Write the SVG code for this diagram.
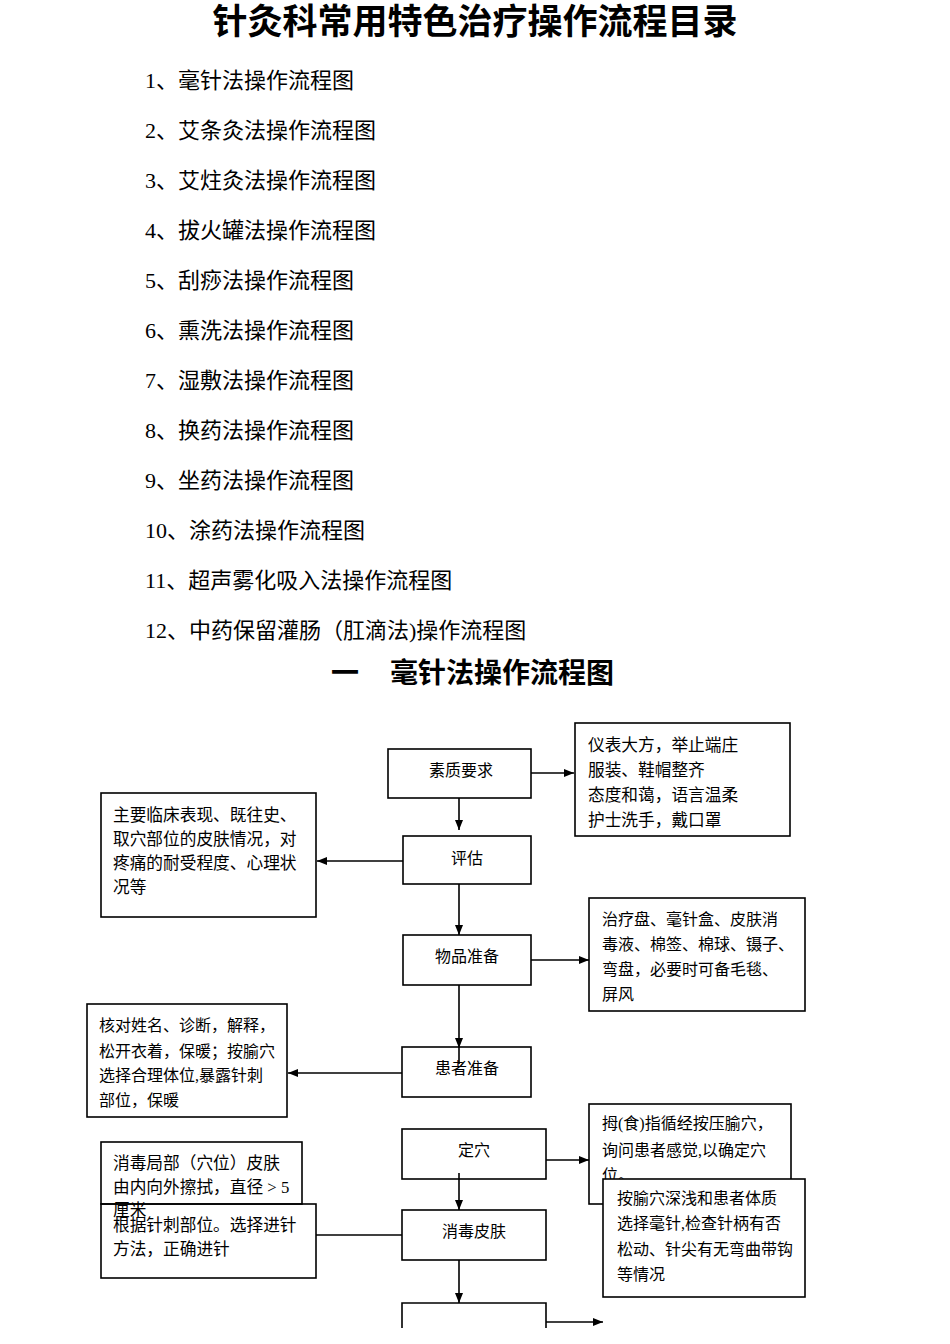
<svg xmlns="http://www.w3.org/2000/svg" width="950" height="1344" viewBox="0 0 950 1344">
<defs>
<marker id="ah" markerUnits="userSpaceOnUse" markerWidth="11" markerHeight="9" refX="10" refY="4" orient="auto">
<path d="M0,0 L10,4 L0,8 z" fill="#000"/>
</marker>
<style>
.title{font-family:"Liberation Sans","Noto Sans CJK SC",sans-serif;font-weight:bold;fill:#000}
.item{font-family:"Liberation Serif","Noto Sans CJK SC",serif;font-size:22px;fill:#000}
.t{font-family:"Liberation Serif","Noto Sans CJK SC",serif;font-size:16px;fill:#000}
.w{font-size:16.7px}
.c{text-anchor:middle}
.box{fill:none;stroke:#000;stroke-width:1.6}
.wbox{fill:#fff;stroke:#000;stroke-width:1.6}
.ln{fill:none;stroke:#000;stroke-width:1.6}
</style>
</defs>
<rect width="950" height="1344" fill="#fff"/>

<g id="heading">
<text class="title" x="475" y="34" font-size="35" text-anchor="middle">针灸科常用特色治疗操作流程目录</text>
</g>
<g id="toc">
<text class="item" x="145" y="88">1、毫针法操作流程图</text>
<text class="item" x="145" y="138">2、艾条灸法操作流程图</text>
<text class="item" x="145" y="188">3、艾炷灸法操作流程图</text>
<text class="item" x="145" y="238">4、拔火罐法操作流程图</text>
<text class="item" x="145" y="288">5、刮痧法操作流程图</text>
<text class="item" x="145" y="338">6、熏洗法操作流程图</text>
<text class="item" x="145" y="388">7、湿敷法操作流程图</text>
<text class="item" x="145" y="438">8、换药法操作流程图</text>
<text class="item" x="145" y="488">9、坐药法操作流程图</text>
<text class="item" x="145" y="538">10、涂药法操作流程图</text>
<text class="item" x="145" y="588">11、超声雾化吸入法操作流程图</text>
<text class="item" x="145" y="638">12、中药保留灌肠（肛滴法)操作流程图</text>
</g>
<g id="subtitle">
<text class="title" y="683" font-size="28"><tspan x="331">一</tspan><tspan x="390">毫针法操作流程图</tspan></text>
</g>

<g id="connectors">
<path class="ln" d="M531,773 H574" marker-end="url(#ah)"/>
<path class="ln" d="M459,798 V830" marker-end="url(#ah)"/>
<path class="ln" d="M403,861 H317" marker-end="url(#ah)"/>
<path class="ln" d="M459,884 V935" marker-end="url(#ah)"/>
<path class="ln" d="M531,960 H589" marker-end="url(#ah)"/>
<path class="ln" d="M459,985 V1048" marker-end="url(#ah)"/>
<path class="ln" d="M459,1048 V1064"/>
<path class="ln" d="M402,1073 H288" marker-end="url(#ah)"/>
<path class="ln" d="M546,1160 H589" marker-end="url(#ah)"/>
<path class="ln" d="M459,1173 V1210" marker-end="url(#ah)"/>
<path class="ln" d="M402,1235 H316"/>
<path class="ln" d="M459,1260 V1303" marker-end="url(#ah)"/>
<path class="ln" d="M546,1322 H603" marker-end="url(#ah)"/>
</g>

<g id="n-suzhi">
<rect class="box" x="388" y="749" width="143" height="49"/>
<text class="t c" x="461" y="776" font-size="16.3">素质要求</text>
</g>
<g id="n-suzhi-note">
<rect class="box" x="575" y="723" width="215" height="113"/>
<text class="t w" x="588" y="751">仪表大方，举止端庄</text>
<text class="t w" x="588" y="776">服装、鞋帽整齐</text>
<text class="t w" x="588" y="801">态度和蔼，语言温柔</text>
<text class="t w" x="588" y="826">护士洗手，戴口罩</text>
</g>
<g id="n-pinggu">
<rect class="box" x="403" y="836" width="128" height="48"/>
<text class="t c" x="467" y="864">评估</text>
</g>
<g id="n-pinggu-note">
<rect class="box" x="101" y="793" width="215" height="124"/>
<text class="t w" x="113" y="821">主要临床表现、既往史、</text>
<text class="t w" x="113" y="845">取穴部位的皮肤情况，对</text>
<text class="t w" x="113" y="869">疼痛的耐受程度、心理状</text>
<text class="t w" x="113" y="893">况等</text>
</g>
<g id="n-wupin">
<rect class="box" x="403" y="935" width="128" height="50"/>
<text class="t c" x="467" y="962">物品准备</text>
</g>
<g id="n-wupin-note">
<rect class="box" x="589" y="898" width="216" height="113"/>
<text class="t" x="602" y="925" font-size="16.5">治疗盘、毫针盒、皮肤消</text>
<text class="t" x="602" y="950" font-size="16.5">毒液、棉签、棉球、镊子、</text>
<text class="t" x="602" y="975" font-size="16.5">弯盘，必要时可备毛毯、</text>
<text class="t" x="602" y="1000" font-size="16.5">屏风</text>
</g>
<g id="n-huanzhe">
<rect class="box" x="402" y="1047" width="129" height="50"/>
<text class="t c" x="467" y="1074">患者准备</text>
</g>
<g id="n-huanzhe-note">
<rect class="box" x="87" y="1004" width="200" height="113"/>
<text class="t" x="99" y="1031">核对姓名、诊断，解释，</text>
<text class="t" x="99" y="1057">松开衣着，保暖；按腧穴</text>
<text class="t" x="99" y="1081">选择合理体位,暴露针刺</text>
<text class="t" x="99" y="1106">部位，保暖</text>
</g>
<g id="n-dingxue">
<rect class="box" x="402" y="1129" width="144" height="50"/>
<text class="t c" x="474" y="1156">定穴</text>
</g>
<g id="n-dingxue-note">
<rect class="box" x="589" y="1104" width="202" height="100"/>
<text class="t" x="602" y="1129">拇(食)指循经按压腧穴，</text>
<text class="t" x="602" y="1156">询问患者感觉,以确定穴</text>
<text class="t" x="602" y="1181">位。</text>
</g>
<g id="n-xuanzhen-note">
<rect class="wbox" x="603" y="1179" width="202" height="118"/>
<text class="t" x="617" y="1204">按腧穴深浅和患者体质</text>
<text class="t" x="617" y="1229">选择毫针,检查针柄有否</text>
<text class="t" x="617" y="1255">松动、针尖有无弯曲带钩</text>
<text class="t" x="617" y="1280">等情况</text>
</g>
<g id="n-xiaodu">
<rect class="box" x="402" y="1210" width="144" height="50"/>
<text class="t c" x="474" y="1237">消毒皮肤</text>
</g>
<g id="n-xiaodu-note">
<rect class="box" x="101" y="1142" width="201" height="62"/>
<text class="t w" x="113" y="1169">消毒局部（穴位）皮肤</text>
<text class="t w" x="113" y="1193">由内向外擦拭，直径 &gt; 5</text>
<text class="t w" x="113" y="1216">厘米</text>
</g>
<g id="n-jinzhen-note">
<rect class="box" x="101" y="1204" width="215" height="74"/>
<text class="t w" x="113" y="1231">根据针刺部位。选择进针</text>
<text class="t w" x="113" y="1255">方法，正确进针</text>
</g>
<g id="n-next">
<path class="box" d="M402,1328 V1303 H546 V1328"/>
</g>
</svg>
